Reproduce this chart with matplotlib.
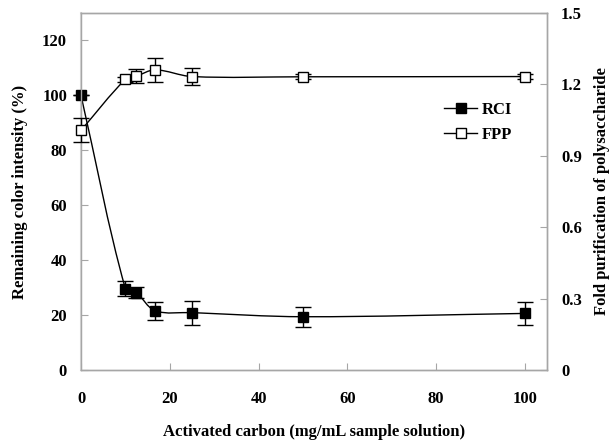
import numpy as np
import matplotlib
matplotlib.use("Agg")
import matplotlib.pyplot as plt
from matplotlib.path import Path
from matplotlib.patches import PathPatch
from matplotlib.lines import Line2D

plt.rcParams['font.family'] = ['Liberation Serif', 'DejaVu Serif']
plt.rcParams['font.weight'] = 'bold'

# Data
carbon = [0, 10, 12.5, 16.7, 25, 50, 100]
rci = [100, 29.6, 28.1, 21.6, 20.9, 19.4, 20.6]
rci_err = [0, 2.7, 2.0, 3.3, 4.4, 3.6, 4.1]
fpp = [1.007, 1.221, 1.235, 1.261, 1.233, 1.232, 1.233]
fpp_err = [0.05, 0.01, 0.029, 0.049, 0.034, 0.01, 0.01]

x_ticks = [0, 20, 40, 60, 80, 100]
left_ticks = [0, 20, 40, 60, 80, 100, 120]
right_ticks = [0, 0.3, 0.6, 0.9, 1.2, 1.5]
right_labels = ['0', '0.3', '0.6', '0.9', '1.2', '1.5']

W, H = 616, 441
AX_L, AX_R, AX_T, AX_B = 81, 547, 13, 370
XMAX, YMAX_L, YMAX_R = 105, 130, 1.5

fig = plt.figure(figsize=(W / 100, H / 100), dpi=100)
ax = fig.add_axes([AX_L / W, 1 - AX_B / H, (AX_R - AX_L) / W, (AX_B - AX_T) / H])
ax2 = ax.twinx()

spine_c = '#A6A6A6'
for a in (ax, ax2):
    for s in a.spines.values():
        s.set_color(spine_c)
        s.set_linewidth(1.0)
ax.spines['left'].set_color('#D9D9D9')
ax.spines['left'].set_linewidth(1.5)


def smooth_path(xs, ys, ymax):
    # tangents computed in screen-proportional space to avoid overshoot
    sx = (AX_R - AX_L) / XMAX
    sy = (AX_B - AX_T) / ymax
    pts = np.column_stack([np.asarray(xs, float) * sx, np.asarray(ys, float) * sy])
    n = len(pts)
    tang = []
    for i in range(n):
        a = pts[i - 1] if i > 0 else pts[i]
        b = pts[i + 1] if i < n - 1 else pts[i]
        d = b - a
        tang.append(d / (np.linalg.norm(d) + 1e-12))
    verts = [pts[0]]
    codes = [Path.MOVETO]
    for i in range(n - 1):
        L = np.linalg.norm(pts[i + 1] - pts[i])
        c1 = pts[i] + tang[i] * L / 3.0
        c2 = pts[i + 1] - tang[i + 1] * L / 3.0
        verts += [c1, c2, pts[i + 1]]
        codes += [Path.CURVE4] * 3
    verts = np.array(verts)
    verts[:, 0] /= sx
    verts[:, 1] /= sy
    return Path(verts, codes)


ax.add_patch(PathPatch(smooth_path(carbon, rci, YMAX_L), facecolor='none', edgecolor='black', lw=1.0, zorder=2))
ax2.add_patch(PathPatch(smooth_path(carbon, fpp, YMAX_R), facecolor='none', edgecolor='black', lw=1.0, zorder=2))

eb = ax.errorbar(carbon, rci, yerr=rci_err, fmt='none', ecolor='black', elinewidth=1.0, capsize=6, capthick=1.0, zorder=3)
for art in eb.lines[1] + eb.lines[2]:
    art.set_clip_on(False)
ax.plot(carbon, rci, linestyle='none', marker='s', markersize=7.5, markerfacecolor='black',
        markeredgecolor='black', zorder=4, clip_on=False)
eb2 = ax2.errorbar(carbon, fpp, yerr=fpp_err, fmt='none', ecolor='black', elinewidth=1.0, capsize=6, capthick=1.0, zorder=3)
for art in eb2.lines[1] + eb2.lines[2]:
    art.set_clip_on(False)
ax2.plot(carbon, fpp, linestyle='none', marker='s', markersize=7.5, markerfacecolor='white',
         markeredgecolor='black', markeredgewidth=1.0, zorder=4, clip_on=False)

ax.set_xlim(0, XMAX)
ax.set_ylim(0, YMAX_L)
ax2.set_ylim(0, YMAX_R)
ax.set_xticks(x_ticks)
ax.set_yticks(left_ticks)
ax2.set_yticks(right_ticks)
ax2.set_yticklabels(right_labels)

fs = 12
ax.tick_params(axis='x', direction='in', length=5, color=spine_c, pad=15, labelsize=fs)
ax.tick_params(axis='y', direction='in', length=5, color=spine_c, pad=10, labelsize=fs)
ax2.tick_params(axis='y', direction='in', length=5, color=spine_c, pad=10, labelsize=fs)
for lab in ax.get_xticklabels() + ax.get_yticklabels() + ax2.get_yticklabels():
    lab.set_fontweight('bold')

ax.set_xlabel('Activated carbon (mg/mL sample solution)', fontsize=fs, fontweight='bold', labelpad=12)
ax.set_ylabel('Remaining color intensity (%)', fontsize=fs, fontweight='bold', labelpad=10)
ax2.set_ylabel('Fold purification of polysaccharide', fontsize=fs, fontweight='bold', labelpad=9)

handles = [
    Line2D([], [], color='black', lw=1.0, marker='s', markersize=7.5, markerfacecolor='black', markeredgecolor='black'),
    Line2D([], [], color='black', lw=1.0, marker='s', markersize=7.5, markerfacecolor='white', markeredgecolor='black'),
]
leg = fig.legend(handles, ['RCI', 'FPP'], loc='upper left', bbox_to_anchor=(444 / W, 1 - 102 / H),
                 frameon=False, borderpad=0, borderaxespad=0, handlelength=2.0, handletextpad=0.25,
                 labelspacing=0.55, prop={'family': 'Liberation Serif', 'weight': 'bold', 'size': fs})

fig.savefig('out.png', dpi=100)
